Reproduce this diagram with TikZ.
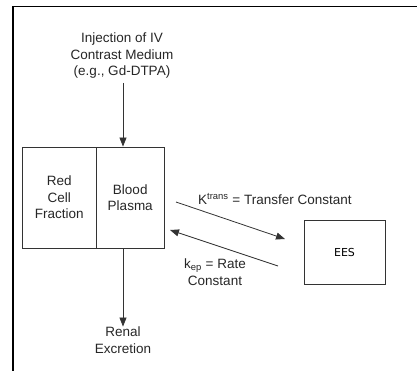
\documentclass[tikz,border=0pt]{standalone}
\usepackage{fontspec}
\setmainfont{Liberation Sans}
\newfontfamily\eesfont{DejaVu Sans}
\usetikzlibrary{arrows.meta}
\begin{document}
\begin{tikzpicture}[x=1pt,y=-1pt,
  lbl/.style={align=center,inner sep=0pt,font=\fontsize{13.5}{16.5}\selectfont,text=black!85},
  compart/.style={draw=black!80,line width=0.8pt,minimum height=101pt,inner sep=0pt,align=center,
    font=\fontsize{13.5}{16.5}\selectfont,text=black!85},
  flow/.style={draw=black!80,line width=0.8pt,-{Triangle[length=9pt,width=7pt]}}]
\useasboundingbox (0,0) rectangle (417,371);
% outer frame (top and left edges only)
\draw[line width=1.3pt] (13,371) -- (13,6.3) -- (417,6.3);
% labels
\node[lbl] (inj) at (122,56) {Injection of IV\\Contrast Medium\\(e.g., Gd-DTPA)};
\node[lbl] (renal) at (123,340) {Renal\\Excretion};
% compartments
\node[compart,minimum width=74.5pt] (rc) at (59.25,197.5) {Red\\Cell\\Fraction};
\node[compart,minimum width=67.5pt] (bp) at (130.25,197.5) {Blood\\Plasma};
\node[draw=black!80,line width=0.8pt,minimum width=81pt,minimum height=64pt,
  font=\eesfont\fontsize{11}{13}\selectfont] (ees) at (344.5,252) {EES};
% injection and excretion
\coordinate (top) at (123,83);
\draw[flow] (top) -- (top |- bp.north);
\coordinate (out) at (123,248);
\draw[flow] (out) -- (renal.north);
% exchange between plasma and EES
\coordinate (a1) at (176,202);
\coordinate (a2) at (285,239);
\coordinate (b1) at (278,266);
\coordinate (b2) at (170,230);
\draw[flow] (a1) -- (a2);
\draw[flow] (b1) -- (b2);
\node[lbl,anchor=base west] (kt) at (198,205) {K\textsuperscript{trans} = Transfer Constant};
\node[lbl] (kep) at (215,272) {k\textsubscript{ep} = Rate\\Constant};
\end{tikzpicture}
\end{document}
